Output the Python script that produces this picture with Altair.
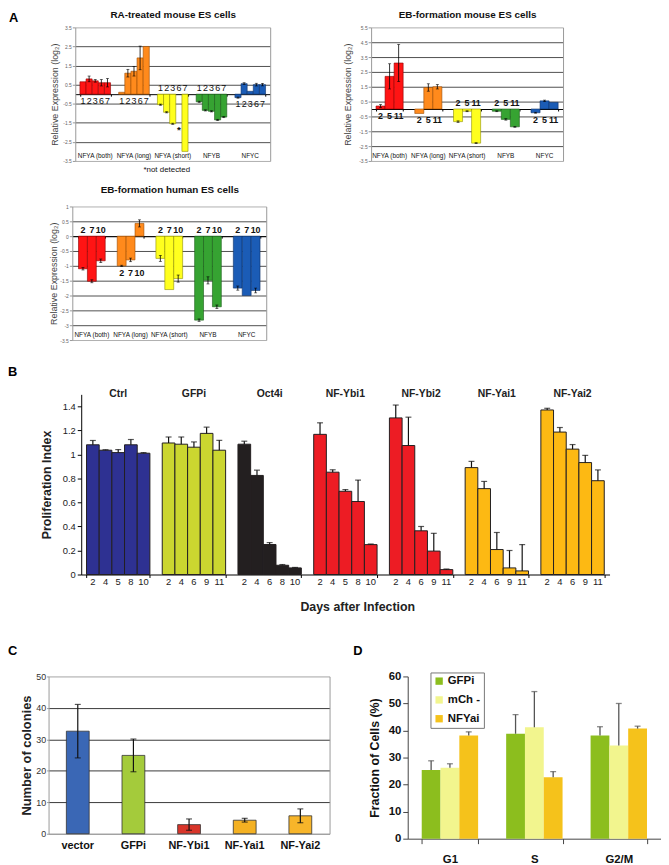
import altair as alt
import pandas as pd

FONT = "Liberation Sans"
W, H = 660, 857
M = 8  # page margin

# ---------------- Panel A : relative expression ----------------
A_GROUPS = ["NFYA (both)", "NFYA (long)", "NFYA (short)", "NFYB", "NFYC"]
A_COLORS = ["#ff1414", "#ff8a1c", "#ffff1e", "#36a332", "#1b5cb6"]
A_STROKES = ["#8c0000", "#9a4a00", "#8f8f00", "#1a5a18", "#0c2f66"]

A1_DAYS = ["1", "2", "3", "6", "7"]
A1_VALUES = [
    [0.65, 0.80, 0.70, 0.60, 0.60],
    [0.10, 1.10, 1.20, 1.90, 2.50],
    [-0.55, -0.95, -1.55, None, -3.00],
    [-0.40, -0.85, -0.90, -1.35, -1.20],
    [-0.18, 0.55, 0.15, 0.50, 0.50],
]
A1_ERRORS = [
    [0.0, 0.15, 0.07, 0.17, 0.22],
    [0.0, 0.20, 0.25, 0.62, 0.0],
    [0.03, 0.03, 0.03, 0.0, 0.0],
    [0.03, 0.03, 0.03, 0.03, 0.03],
    [0.03, 0.05, 0.0, 0.07, 0.07],
]
A1_NOTE_Y = -1.9

A2_DAYS = ["2", "5", "11"]
A2_VALUES = [
    [0.20, 2.20, 3.10],
    [-0.30, 1.45, 1.50],
    [-0.85, -0.15, -2.30],
    [-0.15, -0.70, -1.20],
    [-0.25, 0.55, 0.45],
]
A2_ERRORS = [
    [0.10, 0.85, 1.25],
    [0.0, 0.25, 0.15],
    [0.05, 0.03, 0.03],
    [0.03, 0.05, 0.03],
    [0.03, 0.05, 0.0],
]

A3_DAYS = ["2", "7", "10"]
A3_VALUES = [
    [-1.10, -1.52, -0.83],
    [-1.00, -0.80, 0.43],
    [-0.75, -1.80, -1.43],
    [-2.83, -1.49, -2.38],
    [-1.75, -2.00, -1.83],
]
A3_ERRORS = [
    [0.04, 0.05, 0.06],
    [0.02, 0.06, 0.12],
    [0.10, 0.0, 0.12],
    [0.04, 0.12, 0.06],
    [0.07, 0.0, 0.08],
]

# ---------------- Panel B : proliferation index ----------------
B_GROUPS = ["Ctrl", "GFPi", "Oct4i", "NF-Ybi1", "NF-Ybi2", "NF-Yai1", "NF-Yai2"]
B_COLORS = ["#2e3192", "#cbd630", "#231f20", "#ed1c24", "#ed1c24", "#fdb913", "#fdb913"]
B_DAYS = [
    [2, 4, 5, 8, 10],
    [2, 4, 6, 9, 11],
    [2, 4, 6, 8, 10],
    [2, 4, 5, 8, 10],
    [2, 4, 6, 9, 11],
    [2, 4, 6, 9, 11],
    [2, 4, 6, 9, 11],
]
B_VALUES = [
    [1.080, 1.035, 1.015, 1.080, 1.010],
    [1.095, 1.085, 1.060, 1.175, 1.035],
    [1.085, 0.825, 0.250, 0.077, 0.055],
    [1.167, 0.852, 0.693, 0.608, 0.249],
    [1.304, 1.074, 0.364, 0.195, 0.041],
    [0.890, 0.715, 0.208, 0.055, 0.030],
    [1.370, 1.186, 1.044, 0.932, 0.781],
]
B_ERRORS = [
    [0.036, 0.004, 0.025, 0.044, 0.005],
    [0.050, 0.060, 0.044, 0.052, 0.082],
    [0.025, 0.044, 0.016, 0.006, 0.004],
    [0.096, 0.020, 0.014, 0.178, 0.005],
    [0.107, 0.236, 0.036, 0.148, 0.005],
    [0.052, 0.060, 0.142, 0.145, 0.219],
    [0.014, 0.038, 0.038, 0.060, 0.090],
]

# ---------------- Panel C : colonies ----------------
C_CATEGORIES = ["vector", "GFPi", "NF-Ybi1", "NF-Yai1", "NF-Yai2"]
C_COLORS = ["#3a67b5", "#a4cb3b", "#d8352a", "#f4b122", "#f7b52a"]
C_VALUES = [32.6, 24.9, 2.9, 4.3, 5.7]
C_ERRORS = [8.5, 5.2, 1.8, 0.6, 2.2]

# ---------------- Panel D : cell cycle ----------------
D_PHASES = ["G1", "S", "G2/M"]
D_SERIES = ["GFPi", "mCh -", "NFYai"]
D_COLORS = ["#8cbe1e", "#f2f58e", "#f5c21b"]
D_GFPI = [25.4, 38.8, 38.2]
D_MCH = [26.2, 41.2, 34.5]
D_NFYAI = [38.2, 22.7, 40.7]
D_GFPI_ERR = [3.4, 7.1, 3.2]
D_MCH_ERR = [1.5, 13.2, 15.5]
D_NFYAI_ERR = [1.3, 2.1, 0.9]


def c(p):
    return p - M


def tick_values(lo, hi, step):
    n = int(round((hi - lo) / step))
    return [round(lo + i * step, 3) for i in range(n + 1)]


def edge_color(edges, edge, inner):
    test = " || ".join(f"datum.value == {v}" for v in edges)
    return {"condition": {"test": test, "value": edge}, "value": inner}


LABEL_EXPR = "datum.value + ''"


def expression_panel(title, days, values, errors, ymin, ymax, ystep,
                     left, right, top, bottom, pad_inner, pad_outer,
                     title_pad, ytitle_pad, day_weight, note=False):
    x0, x1 = c(left), c(right)
    yt, yb = c(top), c(bottom)
    zero = yb + (0 - ymin) / (ymax - ymin) * (yt - yb)

    rows = []
    for g, vals, errs in zip(A_GROUPS, values, errors):
        present = [v for v in vals if v is not None]
        below = max(present) > 0
        anchor = min(0.0, min(present)) if below else 0.0
        for d, v, e in zip(days, vals, errs):
            rows.append({"group": g, "day": d, "value": v, "err": e, "base": 0.0,
                         "side": "below" if below else "above", "ly": anchor})
    df = pd.DataFrame(rows)

    xs = alt.Scale(domain=A_GROUPS, range=[x0, x1], paddingInner=pad_inner, paddingOuter=pad_outer)
    xo = alt.Scale(domain=days, paddingInner=0, paddingOuter=0)
    ys = alt.Scale(domain=[ymin, ymax], range=[yb, yt], nice=False, zero=False)

    def X(axis=None):
        return alt.X("group:N", scale=xs, axis=axis)

    XO = alt.XOffset("day:N", scale=xo)
    yticks = tick_values(ymin, ymax, ystep)

    bars = alt.Chart(df).mark_bar(strokeWidth=0.6).encode(
        x=X(alt.Axis(orient="bottom", offset=zero - H, labels=False, title=None,
                     domainColor="#000", domainWidth=1, ticks=True, tickBand="extent",
                     tickSize=2, tickColor="#000", grid=False)),
        xOffset=XO,
        y=alt.Y("value:Q", scale=ys, axis=alt.Axis(
            orient="left", offset=-x0, values=yticks, labelExpr=LABEL_EXPR,
            labelFontSize=5, labelColor="#666", labelPadding=1, labelOverlap=False,
            tickSize=3, tickColor="#999", domainColor="#999",
            grid=True, gridColor=edge_color([ymin, ymax], "#999", "#222"), gridWidth=0.8,
            title="Relative Expression (log₂)", titleFontSize=9, titleFontWeight="normal",
            titleColor="#444", titlePadding=ytitle_pad)),
        y2="base:Q",
        color=alt.Color("group:N", scale=alt.Scale(domain=A_GROUPS, range=A_COLORS), legend=None),
        stroke=alt.Stroke("group:N", scale=alt.Scale(domain=A_GROUPS, range=A_STROKES), legend=None),
    )

    eb = df[df["value"].notna() & (df["err"] > 0)].copy()
    eb["lo"] = eb["value"] - eb["err"]
    eb["hi"] = eb["value"] + eb["err"]
    rules = alt.Chart(eb).mark_rule(color="#000", strokeWidth=0.8).encode(
        x=X(), xOffset=XO, y=alt.Y("lo:Q", scale=ys, axis=None), y2="hi:Q")
    caps = eb.melt(id_vars=["group", "day"], value_vars=["lo", "hi"], value_name="cap")
    capm = alt.Chart(caps).mark_tick(color="#000", thickness=0.8, size=3, orient="horizontal").encode(
        x=X(), xOffset=XO, y=alt.Y("cap:Q", scale=ys, axis=None))

    dl_below = alt.Chart(df[df["side"] == "below"]).mark_text(
        font=FONT, fontSize=9, fontWeight=day_weight, dy=7, baseline="middle", color="#111").encode(
        x=X(), xOffset=XO, y=alt.Y("ly:Q", scale=ys, axis=None), text="day:N")
    dl_above = alt.Chart(df[df["side"] == "above"]).mark_text(
        font=FONT, fontSize=9, fontWeight=day_weight, dy=-6, baseline="middle", color="#111").encode(
        x=X(), xOffset=XO, y=alt.Y("ly:Q", scale=ys, axis=None), text="day:N")

    cats = pd.DataFrame({"group": A_GROUPS, "ypos": [ymin] * len(A_GROUPS)})
    catl = alt.Chart(cats).mark_text(font=FONT, fontSize=6.5, dy=-5, baseline="middle", color="#111").encode(
        x=X(alt.Axis(orient="top", offset=-yt, labels=False, ticks=False, tickSize=0, domain=False,
                     grid=False, title=title, titleFont=FONT, titleFontSize=10,
                     titleFontWeight="bold", titleColor="#111", titlePadding=title_pad)),
        y=alt.Y("ypos:Q", scale=ys, axis=alt.Axis(orient="right", offset=x1 - W, labels=False,
                                                   ticks=False, tickSize=0, grid=False,
                                                   domainColor="#999", title=None)),
        text="group:N",
    )

    layers = [bars, rules, capm, dl_below, dl_above, catl]
    if note:
        nd = df[df["value"].isna()].copy()
        nd["ny"] = A1_NOTE_Y
        ast = alt.Chart(nd).mark_text(text="*", font=FONT, fontSize=10, fontWeight="bold",
                                      color="#111").encode(
            x=X(), xOffset=XO, y=alt.Y("ny:Q", scale=ys, axis=None))
        nt = pd.DataFrame({"group": ["NFYA (short)"], "ypos": [ymin], "t": ["*not detected"]})
        notdet = alt.Chart(nt).mark_text(font=FONT, fontSize=8, dy=9, dx=-6, baseline="middle",
                                         color="#111").encode(
            x=X(), y=alt.Y("ypos:Q", scale=ys, axis=None), text="t:N")
        layers += [ast, notdet]
    return alt.layer(*layers).resolve_axis(x="independent", y="independent")


def proliferation_panel():
    x0, x1 = c(82), c(616)
    unit = 121.4
    ymax = 1.5
    yb = c(576)
    yt = c(576 - ymax * unit)
    rows = []
    for g, days, vals, errs in zip(B_GROUPS, B_DAYS, B_VALUES, B_ERRORS):
        for i, (d, v, e) in enumerate(zip(days, vals, errs)):
            rows.append({"group": g, "pos": i, "day": str(d), "value": v, "err": e,
                         "base": 0.0, "hi": v + e})
    df = pd.DataFrame(rows)
    xs = alt.Scale(domain=B_GROUPS, range=[x0, x1], paddingInner=0.163, paddingOuter=0.07)
    xo = alt.Scale(domain=[0, 1, 2, 3, 4], paddingInner=0, paddingOuter=0)
    ys = alt.Scale(domain=[0, ymax], range=[yb, yt], nice=False, zero=False)

    def X(axis=None):
        return alt.X("group:N", scale=xs, axis=axis)

    XO = alt.XOffset("pos:O", scale=xo)

    bars = alt.Chart(df).mark_bar(stroke="#231f20", strokeWidth=1).encode(
        x=X(alt.Axis(orient="bottom", offset=yb - H, labels=False, ticks=True, tickBand="extent",
                     tickSize=3, tickColor="#000", domainColor="#000", grid=False,
                     title="Days after Infection", titleFontSize=12.5, titleFontWeight="bold",
                     titleColor="#222", titlePadding=23, titleX=353)),
        xOffset=XO,
        y=alt.Y("value:Q", scale=ys, axis=alt.Axis(
            orient="left", offset=-x0, values=tick_values(0, 1.4, 0.2), labelExpr=LABEL_EXPR,
            labelFontSize=9.5, labelColor="#222", labelPadding=2, tickSize=4, tickColor="#000",
            domainColor="#000", grid=False, title="Proliferation Index", titleFontSize=12.5,
            titleFontWeight="bold", titleColor="#222", titlePadding=9)),
        y2="base:Q",
        color=alt.Color("group:N", scale=alt.Scale(domain=B_GROUPS, range=B_COLORS), legend=None),
    )
    rules = alt.Chart(df).mark_rule(color="#111", strokeWidth=1.2).encode(
        x=X(), xOffset=XO, y=alt.Y("value:Q", scale=ys, axis=None), y2="hi:Q")
    caps = alt.Chart(df).mark_tick(color="#111", thickness=1.2, size=6, orient="horizontal").encode(
        x=X(), xOffset=XO, y=alt.Y("hi:Q", scale=ys, axis=None))
    days = alt.Chart(df).mark_text(font=FONT, fontSize=9.5, dy=8, baseline="middle", color="#222").encode(
        x=X(), xOffset=XO, y=alt.Y("base:Q", scale=ys, axis=None), text="day:N")
    names = pd.DataFrame({"group": B_GROUPS, "ytop": [ymax] * len(B_GROUPS)})
    heads = alt.Chart(names).mark_text(font=FONT, fontSize=10.5, fontWeight="bold", baseline="middle",
                                       color="#222").encode(
        x=X(), y=alt.Y("ytop:Q", scale=ys, axis=None), text="group:N")
    return alt.layer(bars, rules, caps, days, heads).resolve_axis(x="independent", y="independent")


def colony_panel():
    x0, x1 = c(49), c(333)
    yb, yt = c(838), c(679)
    df = pd.DataFrame({"cat": C_CATEGORIES, "value": C_VALUES, "err": C_ERRORS})
    df["base"] = 0.0
    df["lo"] = df["value"] - df["err"]
    df["hi"] = df["value"] + df["err"]
    xs = alt.Scale(domain=C_CATEGORIES, range=[x0, x1], paddingInner=0.59, paddingOuter=0.32)
    ys = alt.Scale(domain=[0, 50], range=[yb, yt], nice=False, zero=False)

    def X(axis=None):
        return alt.X("cat:N", scale=xs, axis=axis)

    bars = alt.Chart(df).mark_bar(stroke="#333", strokeWidth=0.8).encode(
        x=X(alt.Axis(orient="bottom", offset=yb - H, ticks=False, tickSize=0, labelPadding=6,
                     labelFontSize=11, labelFontWeight="bold", labelColor="#111", labelAngle=0,
                     domainColor="#999", grid=False, title=None)),
        y=alt.Y("value:Q", scale=ys, axis=alt.Axis(
            orient="left", offset=-x0, values=tick_values(0, 50, 10), labelExpr=LABEL_EXPR,
            labelFontSize=9, labelColor="#333", labelPadding=1, tickSize=2, tickColor="#999",
            domainColor="#999", grid=True, gridColor=edge_color([0, 50], "#999", "#222"),
            gridWidth=0.9, title="Number of colonies", titleFontSize=13, titleFontWeight="bold",
            titleColor="#222", titlePadding=2)),
        y2="base:Q",
        color=alt.Color("cat:N", scale=alt.Scale(domain=C_CATEGORIES, range=C_COLORS), legend=None),
    )
    rules = alt.Chart(df).mark_rule(color="#111", strokeWidth=1.2).encode(
        x=X(), y=alt.Y("lo:Q", scale=ys, axis=alt.Axis(orient="right", offset=x1 - W, labels=False,
                                                       ticks=False, tickSize=0, grid=False,
                                                       domainColor="#999", title=None)),
        y2="hi:Q")
    caps_df = df.melt(id_vars=["cat"], value_vars=["lo", "hi"], value_name="cap")
    caps = alt.Chart(caps_df).mark_tick(color="#111", thickness=1.2, size=6, orient="horizontal").encode(
        x=X(), y=alt.Y("cap:Q", scale=ys, axis=None))
    return alt.layer(bars, rules, caps).resolve_axis(x="independent", y="independent")


def cycle_panel():
    x0, x1 = c(412), c(668)
    yb, yt = c(843), c(679)
    rows = []
    for s, vals, errs in zip(D_SERIES, [D_GFPI, D_MCH, D_NFYAI], [D_GFPI_ERR, D_MCH_ERR, D_NFYAI_ERR]):
        for ph, v, e in zip(D_PHASES, vals, errs):
            rows.append({"phase": ph, "series": s, "value": v, "err": e, "base": 0.0, "hi": v + e})
    df = pd.DataFrame(rows)
    xs = alt.Scale(domain=D_PHASES, range=[x0, x1], paddingInner=0.332, paddingOuter=0.166)
    xo = alt.Scale(domain=D_SERIES, paddingInner=0, paddingOuter=0)
    ys = alt.Scale(domain=[0, 60], range=[yb, yt], nice=False, zero=False)

    def X(axis=None):
        return alt.X("phase:N", scale=xs, axis=axis)

    XO = alt.XOffset("series:N", scale=xo)
    bars = alt.Chart(df).mark_bar().encode(
        x=X(alt.Axis(orient="bottom", offset=yb - H, ticks=True, tickBand="extent", tickSize=5,
                     tickColor="#444", domainColor="#444", labelPadding=10, labelFontSize=11.5,
                     labelFontWeight="bold", labelColor="#111", labelAngle=0, grid=False, title=None)),
        xOffset=XO,
        y=alt.Y("value:Q", scale=ys, axis=alt.Axis(
            orient="left", offset=-x0, values=tick_values(0, 60, 10), labelExpr=LABEL_EXPR,
            labelFontSize=11.5, labelFontWeight="bold", labelColor="#111", labelPadding=2,
            tickSize=5, tickColor="#444", domainColor="#444", grid=False,
            title="Fraction of Cells (%)", titleFontSize=12.5, titleFontWeight="bold",
            titleColor="#111", titlePadding=7)),
        y2="base:Q",
        color=alt.Color("series:N", scale=alt.Scale(domain=D_SERIES, range=D_COLORS),
                        legend=alt.Legend(orient="none", legendX=427, legendY=667, title=None,
                                          symbolType="square", symbolSize=55, symbolStrokeWidth=0,
                                          labelFontSize=11.5, labelFontWeight="bold", labelFont=FONT,
                                          labelColor="#111", strokeColor="#777", fillColor="white",
                                          padding=3, rowPadding=6, labelOffset=3)),
    )
    rules = alt.Chart(df).mark_rule(color="#555", strokeWidth=1.3).encode(
        x=X(), xOffset=XO, y=alt.Y("value:Q", scale=ys, axis=None), y2="hi:Q")
    caps = alt.Chart(df).mark_tick(color="#555", thickness=1.3, size=6, orient="horizontal").encode(
        x=X(), xOffset=XO, y=alt.Y("hi:Q", scale=ys, axis=None))
    return alt.layer(bars, rules, caps).resolve_axis(x="independent", y="independent")


def letter(t, x, y):
    return alt.Chart(pd.DataFrame({"t": [t]})).mark_text(
        font=FONT, fontSize=13, fontWeight="bold", align="left", baseline="top", color="#000").encode(
        x=alt.value(x), y=alt.value(y), text="t:N")


a1 = expression_panel("RA-treated mouse ES cells", A1_DAYS, A1_VALUES, A1_ERRORS, -3.5, 3.5, 1.0,
                      76, 273, 23, 158, 0.21, 0.12, 7.5, 3.3, "normal", note=True)
a2 = expression_panel("EB-formation mouse ES cells", A2_DAYS, A2_VALUES, A2_ERRORS, -3.5, 5.5, 1.0,
                      375, 569, 23, 158, 0.30, 0.127, 7.5, 6.3, "bold")
a3 = expression_panel("EB-formation human ES cells", A3_DAYS, A3_VALUES, A3_ERRORS, -3.5, 1.0, 0.5,
                      73, 269, 204, 339, 0.31, 0.16, 12, 1.3, "bold")
b = proliferation_panel()
cc = colony_panel()
d = cycle_panel()

chart = alt.layer(
    a1, a2, a3, b, cc, d,
    letter("A", 1, 0), letter("B", 0, 357), letter("C", 0, 639), letter("D", 349, 639),
).resolve_scale(
    x="independent", y="independent", xOffset="independent",
    color="independent", stroke="independent",
).properties(width=W, height=H, autosize="none", padding=0)

chart = chart.configure(font=FONT).configure_view(stroke=None).configure_axis(
    minExtent=0, labelFont=FONT, titleFont=FONT)

chart.save("out.html", embed_options={"renderer": "svg", "actions": False})
